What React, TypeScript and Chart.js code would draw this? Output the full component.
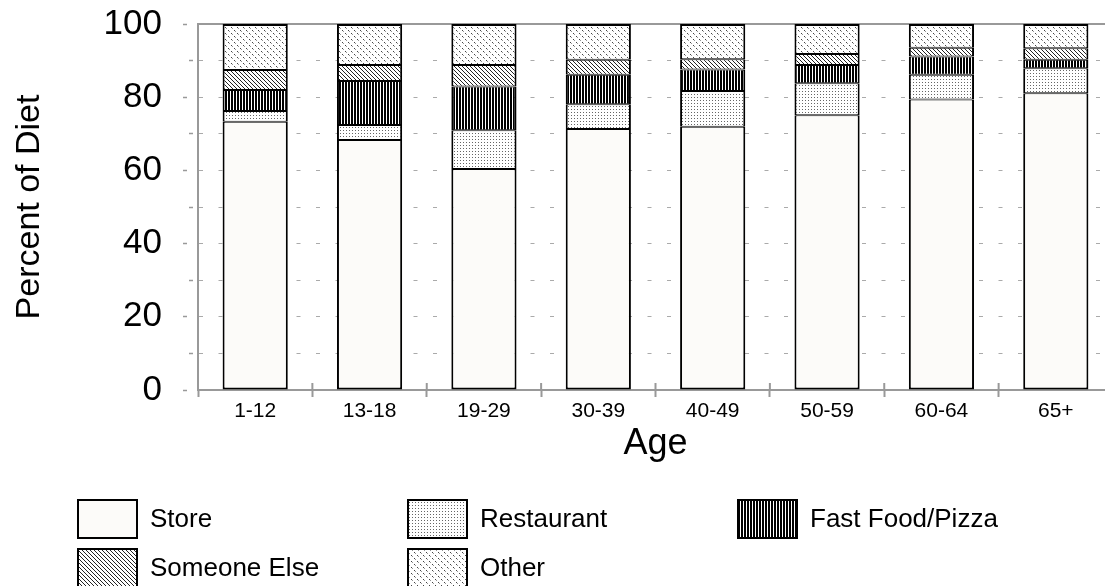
import React, { useEffect, useRef } from "react";
import { Chart, registerables } from "chart.js";

Chart.register(...registerables);

const categories = ["1-12", "13-18", "19-29", "30-39", "40-49", "50-59", "60-64", "65+"];
const store = [73.3, 68.3, 60.4, 71.3, 71.9, 75.1, 79.4, 81.1];
const restaurant = [2.9, 4.1, 10.6, 6.8, 9.8, 8.7, 6.7, 6.8];
const fastFood = [5.8, 12.0, 11.9, 8.0, 5.9, 5.0, 5.0, 2.3];
const someoneElse = [5.4, 4.4, 5.9, 4.1, 2.8, 3.0, 2.4, 3.2];
const other = [12.6, 11.2, 11.2, 9.8, 9.6, 8.2, 6.5, 6.6];
const seriesNames = ["Store", "Restaurant", "Fast Food/Pizza", "Someone Else", "Other"];
const yTickLabels = [0, 20, 40, 60, 80, 100];

const FONT = "'Liberation Sans', Arial, sans-serif";

function makePattern(ctx: CanvasRenderingContext2D, kind: string): CanvasPattern | string {
  const t = document.createElement("canvas");
  const g = t.getContext("2d")!;
  const px = (x: number, y: number, c: string) => {
    g.fillStyle = c;
    g.fillRect(x, y, 1, 1);
  };
  if (kind === "store") return "#fcfbf9";
  if (kind === "restaurant") {
    t.width = 3; t.height = 3;
    g.fillStyle = "#ffffff"; g.fillRect(0, 0, 3, 3);
    px(1, 1, "#666666");
  } else if (kind === "fast") {
    t.width = 3; t.height = 3;
    g.fillStyle = "#ffffff"; g.fillRect(0, 0, 3, 3);
    g.fillStyle = "#000000"; g.fillRect(0, 0, 2, 3);
  } else if (kind === "someone") {
    t.width = 4; t.height = 4;
    g.fillStyle = "#ffffff"; g.fillRect(0, 0, 4, 4);
    for (let i = 0; i < 4; i++) px(i, i, "#222222");
  } else {
    t.width = 6; t.height = 6;
    g.fillStyle = "#ffffff"; g.fillRect(0, 0, 6, 6);
    px(0, 0, "#444444"); px(1, 1, "#999999");
    px(3, 3, "#444444"); px(4, 4, "#999999");
  }
  return ctx.createPattern(t, "repeat")!;
}

export default function App() {
  const ref = useRef<HTMLCanvasElement | null>(null);

  useEffect(() => {
    const canvas = ref.current!;
    const ctx = canvas.getContext("2d")!;
    const fills = ["store", "restaurant", "fast", "someone", "other"].map((k) => makePattern(ctx, k));
    const values = [store, restaurant, fastFood, someoneElse, other];

    const bw = (i: number) => ({
      left: 2,
      right: 2,
      top: i === 4 ? 2 : 1,
      bottom: i === 0 ? 2 : 1,
    });

    const framePlugin = {
      id: "frame",
      beforeDatasetsDraw(chart: any) {
        const { ctx, chartArea } = chart;
        ctx.save();
        ctx.strokeStyle = "#999999";
        ctx.lineWidth = 2;
        ctx.beginPath();
        ctx.moveTo(chartArea.left, chartArea.top);
        ctx.lineTo(chartArea.right, chartArea.top);
        ctx.lineTo(chartArea.right, chartArea.bottom);
        ctx.stroke();
        const xs = chart.scales.x;
        const w = xs.getPixelForValue(1) - xs.getPixelForValue(0);
        for (let i = 0; i <= categories.length; i++) {
          const x = xs.getPixelForValue(i) - w / 2;
          ctx.beginPath();
          ctx.moveTo(x, chartArea.bottom - 7);
          ctx.lineTo(x, chartArea.bottom);
          ctx.stroke();
        }
        ctx.restore();
      },
    };

    const legendPlugin = {
      id: "customLegend",
      afterDraw(chart: any) {
        const { ctx } = chart;
        const ds = chart.data.datasets;
        const cols = [77, 407, 737];
        const rows = [499, 548];
        ctx.save();
        ds.forEach((d: any, i: number) => {
          const x = cols[i % 3];
          const y = rows[Math.floor(i / 3)];
          ctx.fillStyle = "#000";
          ctx.fillRect(x, y, 61, 40);
          ctx.fillStyle = d.backgroundColor;
          ctx.fillRect(x + 2, y + 2, 57, 36);
          ctx.fillStyle = "#000";
          ctx.font = `26px ${FONT}`;
          ctx.textBaseline = "middle";
          ctx.textAlign = "left";
          ctx.fillText(d.label, x + 73, y + 21);
        });
        ctx.restore();
      },
    };

    const chart = new Chart(canvas, {
      type: "bar",
      data: {
        labels: categories,
        datasets: seriesNames.map((name, i) => ({
          label: name,
          data: values[i],
          backgroundColor: fills[i] as any,
          borderColor: "#000000",
          borderWidth: bw(i),
          borderSkipped: false,
          barPercentage: 0.57,
          categoryPercentage: 1,
        })),
      },
      options: {
        animation: false,
        responsive: false,
        devicePixelRatio: 1,
        layout: { padding: { top: 24, right: 17, bottom: 116, left: 0 } },
        plugins: { legend: { display: false }, tooltip: { enabled: false } },
        scales: {
          x: {
            stacked: true,
            afterFit: (s: any) => {
              s.height = 80;
              s.paddingLeft = 0;
              s.paddingRight = 0;
            },
            grid: {
              offset: true,
              drawOnChartArea: false,
              drawTicks: true,
              tickLength: 7,
              tickColor: "#999999",
              tickWidth: 2,
            },
            border: { display: true, color: "#999999", width: 2 },
            ticks: {
              color: "#000",
              font: { family: FONT, size: 21 },
              padding: 2,
              maxRotation: 0,
            },
            title: {
              display: true,
              text: "Age",
              color: "#000",
              font: { family: FONT, size: 36 },
              padding: { top: 0, bottom: 4 },
            },
          },
          y: {
            stacked: true,
            min: 0,
            max: 100,
            afterFit: (s: any) => {
              s.width = 198;
              s.paddingTop = 0;
              s.paddingBottom = 0;
            },
            grid: {
              color: "#aaaaaa",
              lineWidth: 1,
              drawTicks: true,
              tickLength: 15,
              tickColor: "#999999",
              tickWidth: 1.5,
              tickBorderDash: [4, 100],
              tickBorderDashOffset: (c: any) => (c.tick && c.tick.value % 20 === 0 ? 0 : -6),
            },
            border: { display: true, color: "#999999", width: 2, dash: [4, 15.5] },
            ticks: {
              stepSize: 10,
              autoSkip: false,
              color: "#000",
              font: { family: FONT, size: 35 },
              padding: 21,
              callback: (v: any) => (yTickLabels.includes(Number(v)) ? String(v) : ""),
            },
            title: {
              display: true,
              text: "Percent of Diet",
              color: "#000",
              font: { family: FONT, size: 34 },
              padding: { top: 9, bottom: 0 },
            },
          },
        },
      },
      plugins: [framePlugin, legendPlugin],
    });
    return () => chart.destroy();
  }, []);

  return (
    <div style={{ position: "fixed", left: 0, top: 0, width: 1130, height: 586, overflow: "hidden", background: "#fff" }}>
      <canvas ref={ref} width={1130} height={586} style={{ display: "block", width: 1130, height: 586 }} />
    </div>
  );
}
